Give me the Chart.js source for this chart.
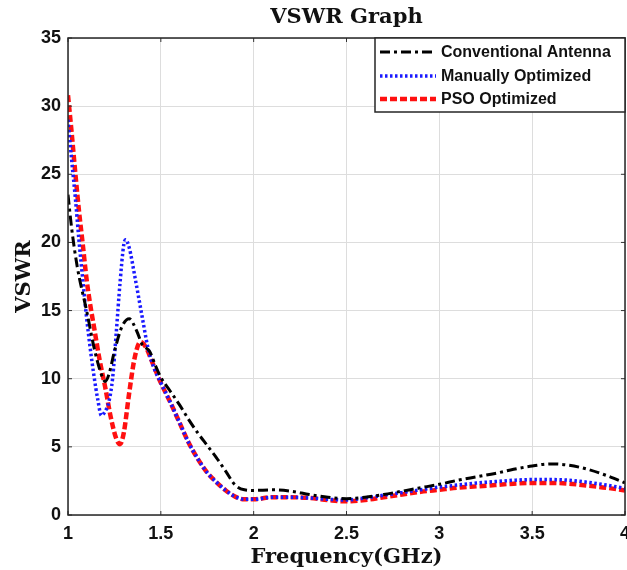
<!DOCTYPE html>
<html>
<head>
<meta charset="utf-8">
<script src="https://cdn.jsdelivr.net/npm/chart.js@4.4.1/dist/chart.umd.min.js"></script>
<style>
  html, body { margin: 0; padding: 0; background: #ffffff; }
  #wrap { width: 627px; height: 570px; }
</style>
</head>
<body>
<div id="wrap"><canvas id="c" width="627" height="570"></canvas></div>
<script>
// ---- data ----
const chartTitle = 'VSWR Graph';
const seriesNames = ['Conventional Antenna', 'Manually Optimized', 'PSO Optimized'];

const convFreq = [1.00,1.02,1.05,1.10,1.145,1.18,1.20,1.22,1.25,1.29,1.33,1.37,1.40,1.44,1.47,1.50,1.55,1.60,1.65,1.70,1.75,1.80,1.85,1.90,1.95,2.00,2.10,2.20,2.30,2.40,2.50,2.60,2.70,2.80,2.90,3.00,3.10,3.20,3.30,3.40,3.50,3.60,3.70,3.80,3.90,4.00];
const convVswr = [23.5,21.0,18.2,15.0,12.0,10.3,9.8,10.3,12.0,13.8,14.4,13.5,12.5,12.0,11.0,10.1,9.1,8.1,7.0,6.0,5.1,4.2,3.2,2.2,1.85,1.8,1.85,1.75,1.5,1.3,1.2,1.3,1.5,1.75,2.0,2.25,2.55,2.8,3.05,3.35,3.6,3.75,3.65,3.35,2.9,2.35];

const manFreq = [1.00,1.02,1.04,1.06,1.08,1.10,1.12,1.14,1.16,1.18,1.20,1.22,1.24,1.26,1.28,1.30,1.31,1.33,1.36,1.40,1.43,1.46,1.50,1.55,1.60,1.65,1.70,1.75,1.80,1.85,1.90,1.95,2.00,2.10,2.20,2.30,2.40,2.50,2.60,2.70,2.80,2.90,3.00,3.10,3.20,3.30,3.40,3.50,3.60,3.70,3.80,3.90,4.00];
const manVswr = [29.0,26.0,23.2,20.0,17.2,14.5,12.2,10.2,8.5,7.3,7.6,8.3,10.0,13.4,17.0,19.8,20.2,19.6,17.5,14.5,12.3,10.9,9.7,8.3,6.8,5.3,4.1,3.1,2.4,1.8,1.35,1.15,1.15,1.3,1.3,1.25,1.15,1.1,1.25,1.45,1.65,1.85,2.05,2.2,2.35,2.45,2.55,2.6,2.6,2.55,2.4,2.2,1.95];

const psoFreq = [1.00,1.02,1.04,1.06,1.08,1.10,1.12,1.14,1.17,1.20,1.23,1.26,1.28,1.30,1.33,1.36,1.39,1.42,1.46,1.50,1.55,1.60,1.65,1.70,1.75,1.80,1.85,1.90,1.95,2.00,2.10,2.20,2.30,2.40,2.50,2.60,2.70,2.80,2.90,3.00,3.10,3.20,3.30,3.40,3.50,3.60,3.70,3.80,3.90,4.00];
const psoVswr = [30.8,28.0,25.0,22.2,19.8,17.3,15.4,13.8,11.4,9.4,7.2,5.6,5.2,6.0,9.0,11.6,12.7,12.3,11.0,9.7,8.3,6.8,5.3,4.1,3.1,2.4,1.8,1.35,1.15,1.15,1.3,1.3,1.25,1.1,1.0,1.1,1.3,1.5,1.7,1.85,2.0,2.1,2.2,2.3,2.35,2.35,2.3,2.15,2.0,1.8];

const xTickValues = [1, 1.5, 2, 2.5, 3, 3.5, 4];
const yTickValues = [0, 5, 10, 15, 20, 25, 30, 35];

const toPts = (xs, ys) => xs.map((x, i) => ({ x: x, y: ys[i] }));

// ---- plugins ----
const framePlugin = {
  id: 'frame',
  afterDatasetsDraw(chart) {
    const { ctx, chartArea: a, scales } = chart;
    ctx.save();
    // title centred over the plot area
    ctx.fillStyle = '#111111';
    ctx.font = 'bold 21px "DejaVu Serif", serif';
    ctx.textAlign = 'center';
    ctx.textBaseline = 'middle';
    ctx.fillText(chartTitle, (a.left + a.right) / 2, 18);

    // inward tick marks on all four sides
    ctx.strokeStyle = '#333333';
    ctx.lineWidth = 1;
    const tl = 4;
    scales.x.ticks.forEach(t => {
      const px = scales.x.getPixelForValue(t.value);
      ctx.beginPath();
      ctx.moveTo(px, a.bottom); ctx.lineTo(px, a.bottom - tl);
      ctx.moveTo(px, a.top); ctx.lineTo(px, a.top + tl);
      ctx.stroke();
    });
    scales.y.ticks.forEach(t => {
      const py = scales.y.getPixelForValue(t.value);
      ctx.beginPath();
      ctx.moveTo(a.left, py); ctx.lineTo(a.left + tl, py);
      ctx.moveTo(a.right, py); ctx.lineTo(a.right - tl, py);
      ctx.stroke();
    });
    // box
    ctx.strokeStyle = '#262626';
    ctx.lineWidth = 1.5;
    ctx.strokeRect(a.left, a.top, a.right - a.left, a.bottom - a.top);

    // legend
    const lx = 375, ly = a.top, lw = a.right - lx, lh = 74;
    ctx.fillStyle = '#ffffff';
    ctx.fillRect(lx, ly, lw, lh);
    ctx.strokeStyle = '#262626';
    ctx.lineWidth = 1.5;
    ctx.strokeRect(lx, ly, lw, lh);
    const rows = [14, 38, 61];
    ctx.font = 'bold 16px "Liberation Sans", Arial, sans-serif';
    ctx.textBaseline = 'middle';
    ctx.textAlign = 'left';
    chart.data.datasets.forEach((ds, i) => {
      const yy = ly + rows[i];
      ctx.save();
      ctx.strokeStyle = ds.borderColor;
      ctx.lineWidth = ds.borderWidth;
      ctx.setLineDash(ds.borderDash || []);
      ctx.beginPath();
      ctx.moveTo(380, yy);
      ctx.lineTo(436, yy);
      ctx.stroke();
      ctx.restore();
      ctx.fillStyle = '#111111';
      ctx.fillText(ds.label, 441, yy + 1);
    });
    ctx.restore();
  }
};

// ---- chart ----
const ctx = document.getElementById('c').getContext('2d');
new Chart(ctx, {
  type: 'line',
  data: {
    datasets: [
      {
        label: seriesNames[0],
        data: toPts(convFreq, convVswr),
        borderColor: '#000000',
        borderWidth: 3,
        borderDash: [10, 4, 3, 4],
        pointRadius: 0,
        fill: false,
        cubicInterpolationMode: 'monotone'
      },
      {
        label: seriesNames[1],
        data: toPts(manFreq, manVswr),
        borderColor: '#1a1aff',
        borderWidth: 3.5,
        borderDash: [2.5, 2.5],
        pointRadius: 0,
        fill: false,
        cubicInterpolationMode: 'monotone'
      },
      {
        label: seriesNames[2],
        data: toPts(psoFreq, psoVswr),
        borderColor: '#ff1010',
        borderWidth: 4.5,
        borderDash: [7, 3],
        pointRadius: 0,
        fill: false,
        cubicInterpolationMode: 'monotone'
      }
    ]
  },
  options: {
    responsive: false,
    animation: false,
    devicePixelRatio: 1,
    layout: { padding: { left: 0, right: 2, top: 38, bottom: 0 } },
    plugins: {
      legend: { display: false },
      tooltip: { enabled: false },
      title: { display: false }
    },
    scales: {
      x: {
        type: 'linear',
        min: 1,
        max: 4,
        afterBuildTicks: s => { s.ticks = xTickValues.map(v => ({ value: v })); },
        afterFit: s => { s.height = 55; s.paddingLeft = 0; s.paddingRight = 0; },
        grid: { color: '#dddddd', lineWidth: 1, drawTicks: false },
        border: { display: false },
        ticks: {
          color: '#111111',
          padding: 8,
          maxRotation: 0,
          font: { family: '"Liberation Sans", Arial, sans-serif', size: 18, weight: 'bold' },
          callback: v => String(v)
        },
        title: {
          display: true,
          text: 'Frequency(GHz)',
          color: '#111111',
          font: { family: '"DejaVu Serif", serif', size: 21, weight: 'bold' },
          padding: { top: 0, bottom: 0 }
        }
      },
      y: {
        type: 'linear',
        min: 0,
        max: 35,
        afterBuildTicks: s => { s.ticks = yTickValues.map(v => ({ value: v })); },
        afterFit: s => { s.width = 68; s.paddingTop = 0; s.paddingBottom = 0; },
        grid: { color: '#dddddd', lineWidth: 1, drawTicks: false },
        border: { display: false },
        ticks: {
          color: '#111111',
          padding: 7,
          font: { family: '"Liberation Sans", Arial, sans-serif', size: 18, weight: 'bold' },
          callback: v => String(v)
        },
        title: {
          display: true,
          text: 'VSWR',
          color: '#111111',
          font: { family: '"DejaVu Serif", serif', size: 21, weight: 'bold' },
          padding: { top: 12, bottom: 0 }
        }
      }
    }
  },
  plugins: [framePlugin]
});
</script>
</body>
</html>
